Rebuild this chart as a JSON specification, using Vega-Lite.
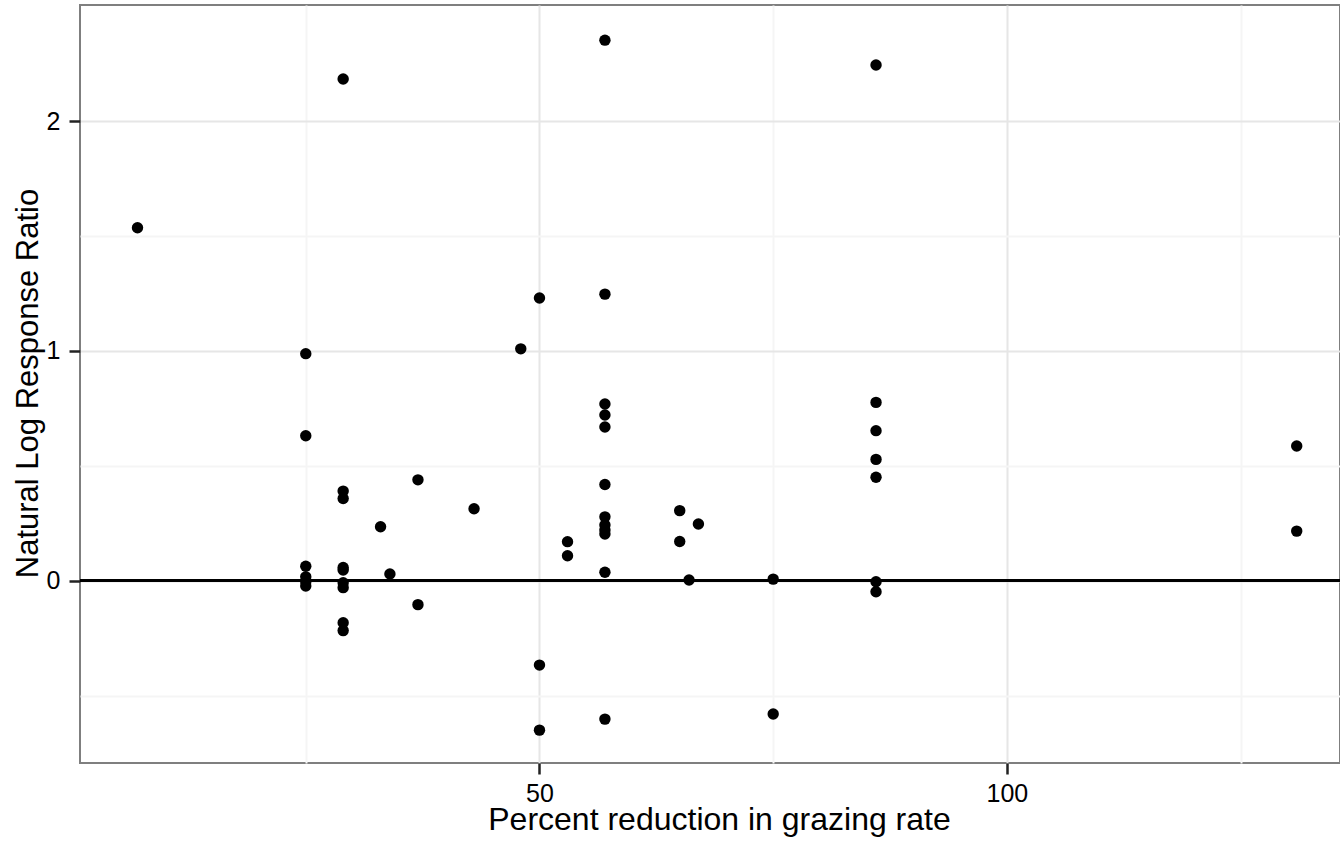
{
  "$schema": "https://vega.github.io/schema/vega-lite/v6.json",
  "width": 1260,
  "height": 758,
  "autosize": {"type": "none"},
  "padding": {"left": 80, "top": 5, "right": 0, "bottom": 84},
  "background": "white",
  "config": {
    "view": {"stroke": "#7f7f7f", "strokeWidth": 2},
    "font": "Liberation Sans"
  },
  "data": {
    "values": [
      {"reduction": 7, "lnRR": 1.536},
      {"reduction": 25, "lnRR": 0.988},
      {"reduction": 25, "lnRR": 0.631},
      {"reduction": 25, "lnRR": 0.063},
      {"reduction": 25, "lnRR": 0.017},
      {"reduction": 25, "lnRR": -0.004},
      {"reduction": 25, "lnRR": -0.023},
      {"reduction": 29, "lnRR": 2.183},
      {"reduction": 29, "lnRR": 0.39},
      {"reduction": 29, "lnRR": 0.358},
      {"reduction": 29, "lnRR": 0.058},
      {"reduction": 29, "lnRR": 0.047},
      {"reduction": 29, "lnRR": -0.009},
      {"reduction": 29, "lnRR": -0.03},
      {"reduction": 29, "lnRR": -0.183},
      {"reduction": 29, "lnRR": -0.217},
      {"reduction": 33, "lnRR": 0.235},
      {"reduction": 34, "lnRR": 0.029},
      {"reduction": 37, "lnRR": 0.439},
      {"reduction": 37, "lnRR": -0.104},
      {"reduction": 43, "lnRR": 0.313},
      {"reduction": 48, "lnRR": 1.009},
      {"reduction": 50, "lnRR": 1.23},
      {"reduction": 50, "lnRR": -0.367},
      {"reduction": 50, "lnRR": -0.65},
      {"reduction": 53, "lnRR": 0.17},
      {"reduction": 53, "lnRR": 0.109},
      {"reduction": 57, "lnRR": 2.352},
      {"reduction": 57, "lnRR": 1.247},
      {"reduction": 57, "lnRR": 0.769},
      {"reduction": 57, "lnRR": 0.721},
      {"reduction": 57, "lnRR": 0.669},
      {"reduction": 57, "lnRR": 0.419},
      {"reduction": 57, "lnRR": 0.278},
      {"reduction": 57, "lnRR": 0.242},
      {"reduction": 57, "lnRR": 0.221},
      {"reduction": 57, "lnRR": 0.203},
      {"reduction": 57, "lnRR": 0.037},
      {"reduction": 57, "lnRR": -0.602},
      {"reduction": 65, "lnRR": 0.305},
      {"reduction": 65, "lnRR": 0.171},
      {"reduction": 66, "lnRR": 0.003},
      {"reduction": 67, "lnRR": 0.247},
      {"reduction": 75, "lnRR": 0.007},
      {"reduction": 75, "lnRR": -0.58},
      {"reduction": 86, "lnRR": 2.244},
      {"reduction": 86, "lnRR": 0.776},
      {"reduction": 86, "lnRR": 0.653},
      {"reduction": 86, "lnRR": 0.528},
      {"reduction": 86, "lnRR": 0.45},
      {"reduction": 86, "lnRR": -0.004},
      {"reduction": 86, "lnRR": -0.048},
      {"reduction": 131, "lnRR": 0.586},
      {"reduction": 131, "lnRR": 0.216}
    ]
  },
  "layer": [
    {
      "mark": {"type": "circle", "color": "black", "opacity": 1, "size": 130},
      "encoding": {
        "x": {
          "field": "reduction",
          "type": "quantitative",
          "scale": {"domain": [0.85, 135.63], "zero": false, "nice": false},
          "axis": {
            "title": "Percent reduction in grazing rate",
            "values": [25, 50, 75, 100, 125],
            "labelExpr": "datum.value % 50 === 0 ? format(datum.value, 'd') : ''",
            "labelOverlap": false,
            "grid": true,
            "gridColor": {"condition": {"test": "datum.value % 50 === 0", "value": "#e6e6e6"}, "value": "#f5f5f5"},
            "gridWidth": 2,
            "tickOpacity": {"condition": {"test": "datum.value % 50 === 0", "value": 1}, "value": 0},
            "tickColor": "#222222",
            "tickSize": 11,
            "tickWidth": 2.5,
            "domain": false,
            "labelFont": "Liberation Sans",
            "labelFontSize": 25,
            "labelColor": "#000000",
            "labelPadding": 7,
            "titleFont": "Liberation Sans",
            "titleFontSize": 32,
            "titleFontWeight": "normal",
            "titleColor": "#000000",
            "titleX": 639,
            "titleY": 66,
            "titleAlign": "center",
            "titleBaseline": "alphabetic"
          }
        },
        "y": {
          "field": "lnRR",
          "type": "quantitative",
          "scale": {"domain": [-0.793, 2.505], "zero": false, "nice": false},
          "axis": {
            "title": "Natural Log Response Ratio",
            "values": [-0.5, 0, 0.5, 1, 1.5, 2],
            "labelExpr": "datum.value % 1 === 0 ? format(datum.value, 'd') : ''",
            "labelOverlap": false,
            "grid": true,
            "gridColor": {"condition": {"test": "datum.value % 1 === 0", "value": "#e6e6e6"}, "value": "#f5f5f5"},
            "gridWidth": 2,
            "tickOpacity": {"condition": {"test": "datum.value % 1 === 0", "value": 1}, "value": 0},
            "tickColor": "#222222",
            "tickSize": 11,
            "tickWidth": 2.5,
            "domain": false,
            "labelFont": "Liberation Sans",
            "labelFontSize": 25,
            "labelColor": "#000000",
            "labelPadding": 9,
            "titleFont": "Liberation Sans",
            "titleFontSize": 31,
            "titleFontWeight": "normal",
            "titleColor": "#000000",
            "titleX": -43,
            "titleY": 378,
            "titleAngle": 270,
            "titleAlign": "center",
            "titleBaseline": "alphabetic"
          }
        }
      }
    },
    {
      "mark": {"type": "rule", "color": "black", "strokeWidth": 2.5},
      "encoding": {"y": {"datum": 0}}
    }
  ]
}
